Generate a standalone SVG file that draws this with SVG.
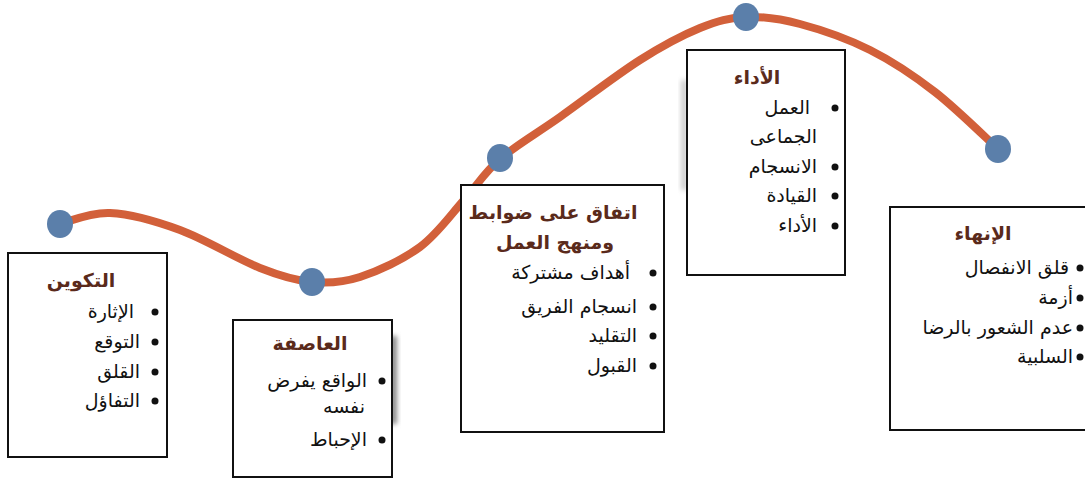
<svg xmlns="http://www.w3.org/2000/svg" width="1085" height="479" viewBox="0 0 1085 479">
  <style>
    .box { fill: #ffffff; stroke: #111111; stroke-width: 2; }
    .title { font-family: "DejaVu Sans", sans-serif; font-weight: bold; font-size: 19px; fill: #5a2a1b; text-anchor: middle; }
    .item { font-family: "DejaVu Sans", sans-serif; font-size: 19px; fill: #111111; text-anchor: end; }
    .dot { fill: #111111; }
    .node { fill: #5b7faa; }
    .curve { fill: none; stroke: #d2603a; stroke-width: 8; stroke-linecap: round; }
  </style>
  <defs>
    <filter id="blur" x="-50%" y="-50%" width="200%" height="200%">
      <feGaussianBlur stdDeviation="2.5"/>
    </filter>
  </defs>
  <rect width="1085" height="479" fill="#ffffff"/>

  <g id="connectors">
    <path class="curve" d="M59,224 C67.5,222.2 89.8,212 110,213 C130.2,214 155,220.8 180,230 C205,239.2 238,259.3 260,268 C282,276.7 295.3,280.5 312,282 C328.7,283.5 342,282.8 360,277 C378,271.2 402.7,259.8 420,247 C437.3,234.2 450.7,214.7 464,200 C477.3,185.3 484,172.8 500,159 C516,145.2 536.7,133.5 560,117 C583.3,100.5 616.7,74.8 640,60 C663.3,45.2 682.3,35.2 700,28 C717.7,20.8 729.3,17.7 746,17 C762.7,16.3 779.3,18.5 800,24 C820.7,29.5 847.5,38.7 870,50 C892.5,61.3 913.7,75.5 935,92 C956.3,108.5 987.5,139.5 998,149"/>
  </g>

  <g id="points">
    <ellipse class="node" cx="60" cy="224" rx="13" ry="14"/>
    <ellipse class="node" cx="312" cy="282" rx="13" ry="14"/>
    <ellipse class="node" cx="500" cy="158" rx="13" ry="14"/>
    <ellipse class="node" cx="746" cy="17" rx="13" ry="14"/>
    <ellipse class="node" cx="998" cy="149" rx="13" ry="14"/>
  </g>

  <g id="node-takween">
    <rect class="box" x="8" y="253" width="159" height="204"/>
    <text class="title" x="81" y="287">التكوين</text>
    <text class="item" x="134" y="318">الإثارة</text>
    <circle class="dot" cx="155" cy="312" r="3.5"/>
    <text class="item" x="140" y="348">التوقع</text>
    <circle class="dot" cx="155" cy="342" r="3.5"/>
    <text class="item" x="140" y="378">القلق</text>
    <circle class="dot" cx="155" cy="372" r="3.5"/>
    <text class="item" x="140" y="407">التفاؤل</text>
    <circle class="dot" cx="155" cy="401" r="3.5"/>
  </g>

  <g id="node-asifa">
    <rect x="390" y="336" width="7" height="88" fill="#888888" filter="url(#blur)"/>
    <rect class="box" x="233" y="320" width="159" height="157"/>
    <text class="title" x="310" y="350">العاصفة</text>
    <text class="item" x="367" y="387">الواقع يفرض</text>
    <circle class="dot" cx="382" cy="381" r="3.5"/>
    <text class="item" x="365" y="413">نفسه</text>
    <text class="item" x="367" y="446">الإحباط</text>
    <circle class="dot" cx="382" cy="440" r="3.5"/>
  </g>

  <g id="node-ittifaq">
    <rect class="box" x="461" y="185" width="203" height="247"/>
    <text class="title" x="553" y="219">اتفاق على ضوابط</text>
    <text class="title" x="555" y="249">ومنهج العمل</text>
    <text class="item" x="630" y="279">أهداف مشتركة</text>
    <circle class="dot" cx="653" cy="273" r="3.5"/>
    <text class="item" x="637" y="313">انسجام الفريق</text>
    <circle class="dot" cx="653" cy="307" r="3.5"/>
    <text class="item" x="637" y="342">التقليد</text>
    <circle class="dot" cx="653" cy="336" r="3.5"/>
    <text class="item" x="637" y="372">القبول</text>
    <circle class="dot" cx="653" cy="366" r="3.5"/>
  </g>

  <g id="node-adaa">
    <rect x="681" y="80" width="6" height="110" fill="#cccccc" filter="url(#blur)"/>
    <rect class="box" x="687" y="50" width="158" height="225"/>
    <text class="title" x="757" y="84">الأداء</text>
    <text class="item" x="810" y="114">العمل</text>
    <circle class="dot" cx="835" cy="108" r="3.5"/>
    <text class="item" x="817" y="143">الجماعى</text>
    <text class="item" x="817" y="173">الانسجام</text>
    <circle class="dot" cx="835" cy="167" r="3.5"/>
    <text class="item" x="817" y="202">القيادة</text>
    <circle class="dot" cx="835" cy="196" r="3.5"/>
    <text class="item" x="817" y="232">الأداء</text>
    <circle class="dot" cx="835" cy="226" r="3.5"/>
  </g>

  <g id="node-inhaa">
    <rect class="box" x="890" y="207" width="200" height="223"/>
    <text class="title" x="983" y="240">الإنهاء</text>
    <text class="item" x="1069" y="274">قلق الانفصال</text>
    <circle class="dot" cx="1080" cy="268" r="3.5"/>
    <text class="item" x="1073" y="304">أزمة</text>
    <circle class="dot" cx="1080" cy="298" r="3.5"/>
    <text class="item" x="1073" y="334">عدم الشعور بالرضا</text>
    <circle class="dot" cx="1080" cy="328" r="3.5"/>
    <text class="item" x="1073" y="363">السلبية</text>
    <circle class="dot" cx="1080" cy="357" r="3.5"/>
  </g>
</svg>
